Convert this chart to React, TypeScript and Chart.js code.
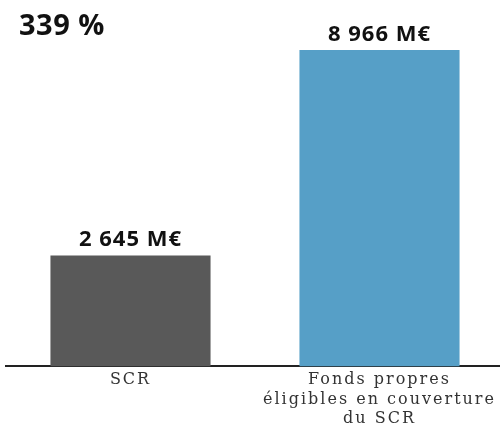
import React, { useEffect, useRef } from "react";
import { Chart, registerables } from "chart.js";

Chart.register(...registerables);

const categories: (string | string[])[] = ["SCR", ["Fonds propres", "éligibles en couverture", "du SCR"]];
const values: number[] = [2645, 8966];
const valueLabels: string[] = ["2 645 M€", "8 966 M€"];
const barColors: string[] = ["#595959", "#569FC7"];
const titleText = "339 %";
const axisMin = -770;
const axisMax = 10500;

const spacingPlugin = {
  id: "tickSpacing",
  beforeDraw(chart: any) {
    (chart.ctx as any).letterSpacing = "2px";
  },
  beforeDatasetsDraw(chart: any) {
    (chart.ctx as any).letterSpacing = "0px";
  },
};

const labelPlugin = {
  id: "valueLabels",
  afterDatasetsDraw(chart: any) {
    const ctx = chart.ctx;
    const meta = chart.getDatasetMeta(0);
    ctx.save();
    (ctx as any).letterSpacing = "1px";
    ctx.font = "bold 22px 'Open Sans'";
    ctx.fillStyle = "#111";
    ctx.textAlign = "center";
    ctx.textBaseline = "alphabetic";
    meta.data.forEach((bar: any, i: number) => {
      ctx.fillText(valueLabels[i], bar.x, bar.y - 9);
    });
    (ctx as any).letterSpacing = "0.5px";
    ctx.font = "bold 29px 'Open Sans'";
    ctx.textAlign = "left";
    ctx.fillText(titleText, 19, 35);
    ctx.restore();
  },
};

export default function App() {
  const ref = useRef<HTMLCanvasElement | null>(null);
  useEffect(() => {
    if (!ref.current) return;
    const chart = new Chart(ref.current, {
      type: "bar",
      data: {
        labels: categories as any,
        datasets: [
          {
            data: values,
            backgroundColor: barColors,
            base: axisMin,
            categoryPercentage: 1,
            barPercentage: 0.643,
          } as any,
        ],
      },
      options: {
        animation: false,
        responsive: true,
        maintainAspectRatio: false,
        layout: { padding: { left: 6, right: 0, top: 0, bottom: 0 } },
        plugins: { legend: { display: false }, tooltip: { enabled: false }, title: { display: false } },
        scales: {
          x: {
            grid: { display: false, drawTicks: false },
            border: { display: true, color: "#222", width: 2 },
            ticks: {
              color: "#333",
              padding: 4,
              maxRotation: 0,
              autoSkip: false,
              font: { family: "'DejaVu Serif'", size: 16, lineHeight: 1.22 },
            },
          },
          y: { display: false, min: axisMin, max: axisMax },
        },
      },
      plugins: [spacingPlugin, labelPlugin],
    });
    return () => chart.destroy();
  }, []);
  return (
    <div style={{ position: "fixed", left: 0, top: 0, width: 500, height: 424, overflow: "hidden", background: "#fff" }}>
      <div style={{ position: "absolute", left: 0, top: 0, width: 504, height: 433 }}>
        <canvas ref={ref} />
      </div>
    </div>
  );
}
